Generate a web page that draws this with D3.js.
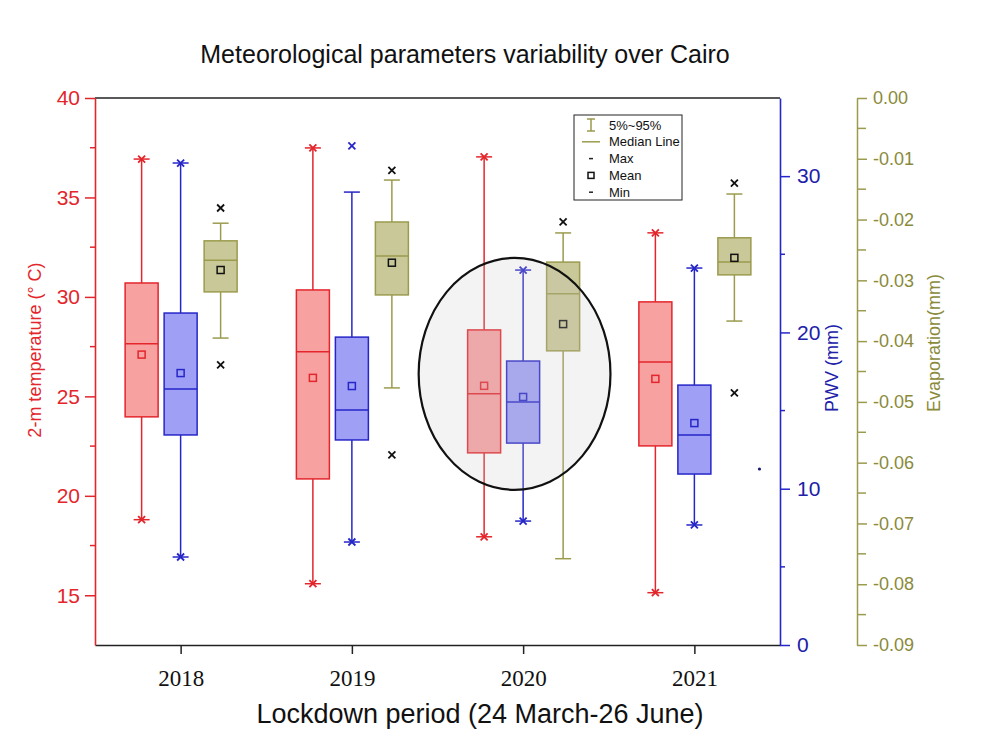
<!DOCTYPE html>
<html>
<head>
<meta charset="utf-8">
<script src="https://cdn.jsdelivr.net/npm/d3@7.9.0/dist/d3.min.js"></script>
<style>
  body { margin: 0; background: #fff; }
  svg { display: block; font-family: Arial, "Liberation Sans", sans-serif; }
</style>
</head>
<body>
<svg id="chart" width="1000" height="750"></svg>
<script>
// Years on the x axis
const years = [2018, 2019, 2020, 2021];

// 2-m temperature (°C)
const tempMax = [36.93, 37.49, 37.04, 33.22];
const tempP95 = [36.93, 37.49, 37.04, 33.22];
const tempQ3 = [30.7, 30.35, 28.34, 29.75];
const tempMedian = [27.64, 27.24, 25.13, 26.73];
const tempMean = [27.1, 25.93, 25.53, 25.88];
const tempQ1 = [23.97, 20.85, 22.16, 22.51];
const tempP5 = [18.8, 15.58, 17.94, 15.13];
const tempMin = [18.8, 15.58, 17.94, 15.13];

// PWV (mm)
const pwvMax = [30.84, 31.93, 23.99, 24.12];
const pwvP95 = [30.84, 28.98, 23.99, 24.12];
const pwvQ3 = [21.24, 19.7, 18.17, 16.63];
const pwvMedian = [16.38, 15.03, 15.55, 13.44];
const pwvMean = [17.4, 16.57, 15.87, 14.2];
const pwvQ1 = [13.44, 13.12, 12.92, 10.94];
const pwvP5 = [5.63, 6.59, 7.93, 7.68];
const pwvMin = [5.63, 6.59, 7.93, 7.68];

// Evaporation (mm)
const evapMax = [-0.0181, -0.0119, -0.0204, -0.014];
const evapP95 = [-0.0206, -0.0135, -0.0222, -0.0158];
const evapQ3 = [-0.0235, -0.0204, -0.027, -0.023];
const evapMedian = [-0.0267, -0.026, -0.0322, -0.027];
const evapMean = [-0.0283, -0.0271, -0.0372, -0.0263];
const evapQ1 = [-0.0319, -0.0324, -0.0416, -0.0291];
const evapP5 = [-0.0395, -0.0477, -0.0758, -0.0367];
const evapMin = [-0.0439, -0.0587, null, -0.0485];

// stray point near the right axis (PWV scale)
const strayYear = [2021.38];
const strayPwv = [11.26];

// Highlight ellipse around 2020 (year, temperature units)
const ellipseCenter = [2019.95, 26.13];
const ellipseRadius = [0.56, 5.83];

const svg = d3.select("#chart");
const plotLeft = 95, plotRight = 780, plotTop = 98, plotBottom = 645;

const x = d3.scaleLinear().domain([2017.5, 2021.5]).range([plotLeft, plotRight]);
const yT = d3.scaleLinear().domain([12.5, 40]).range([plotBottom, plotTop]);
const yP = d3.scaleLinear().domain([0, 35]).range([plotBottom, plotTop]);
const yE = d3.scaleLinear().domain([-0.09, 0]).range([plotBottom, plotTop]);

const RED = "#e3262c", BLUE = "#2626c8", OLIVE = "#9b9b4e";

const series = [
  { scale: yT, offset: -39, stroke: RED, fill: "#f8a1a1", mark: RED,
    max: tempMax, p95: tempP95, q3: tempQ3, med: tempMedian, mean: tempMean,
    q1: tempQ1, p5: tempP5, min: tempMin },
  { scale: yP, offset: 0, stroke: BLUE, fill: "#9f9ff6", mark: BLUE,
    max: pwvMax, p95: pwvP95, q3: pwvQ3, med: pwvMedian, mean: pwvMean,
    q1: pwvQ1, p5: pwvP5, min: pwvMin },
  { scale: yE, offset: 40, stroke: OLIVE, fill: "#c9c898", mark: "#111",
    max: evapMax, p95: evapP95, q3: evapQ3, med: evapMedian, mean: evapMean,
    q1: evapQ1, p5: evapP5, min: evapMin }
];

const boxW = 33, capW = 16;

// Frame line on top
svg.append("line").attr("x1", plotLeft).attr("x2", plotRight).attr("y1", plotTop).attr("y2", plotTop)
  .attr("stroke", "#222").attr("stroke-width", 1.5);

// Bottom axis
const xAxis = svg.append("g").attr("transform", `translate(0,${plotBottom})`)
  .call(d3.axisBottom(x).tickValues(years).tickFormat(d3.format("d")).tickSize(9).tickPadding(16).tickSizeOuter(0));
xAxis.select(".domain").attr("stroke", "#222").attr("stroke-width", 1.5);
xAxis.selectAll(".tick line").attr("stroke", "#222").attr("stroke-width", 1.5);
xAxis.selectAll("text").attr("font-family", "'Liberation Serif', 'Times New Roman', serif")
  .attr("font-size", 23).attr("fill", "#111");

// Draw boxes
series.forEach(s => {
  years.forEach((yr, i) => {
    const cx = x(yr) + s.offset;
    const g = svg.append("g");
    // whiskers
    g.append("line").attr("x1", cx).attr("x2", cx)
      .attr("y1", s.scale(s.p95[i])).attr("y2", s.scale(s.q3[i]))
      .attr("stroke", s.stroke).attr("stroke-width", 1.5);
    g.append("line").attr("x1", cx).attr("x2", cx)
      .attr("y1", s.scale(s.q1[i])).attr("y2", s.scale(s.p5[i]))
      .attr("stroke", s.stroke).attr("stroke-width", 1.5);
    [s.p95[i], s.p5[i]].forEach(v => {
      g.append("line").attr("x1", cx - capW / 2).attr("x2", cx + capW / 2)
        .attr("y1", s.scale(v)).attr("y2", s.scale(v))
        .attr("stroke", s.stroke).attr("stroke-width", 1.5);
    });
    // box
    g.append("rect").attr("x", cx - boxW / 2).attr("width", boxW)
      .attr("y", s.scale(s.q3[i])).attr("height", s.scale(s.q1[i]) - s.scale(s.q3[i]))
      .attr("fill", s.fill).attr("stroke", s.stroke).attr("stroke-width", 1.5);
    g.append("line").attr("x1", cx - boxW / 2).attr("x2", cx + boxW / 2)
      .attr("y1", s.scale(s.med[i])).attr("y2", s.scale(s.med[i]))
      .attr("stroke", s.stroke).attr("stroke-width", 1.5);
    // mean
    g.append("rect").attr("x", cx - 3.5).attr("y", s.scale(s.mean[i]) - 3.5)
      .attr("width", 7).attr("height", 7).attr("fill", "none")
      .attr("stroke", s.mark).attr("stroke-width", 1.5);
    // max / min crosses
    [s.max[i], s.min[i]].forEach(v => {
      if (v == null) return;
      const py = s.scale(v), r = 3.5;
      g.append("path")
        .attr("d", `M${cx - r},${py - r}L${cx + r},${py + r}M${cx - r},${py + r}L${cx + r},${py - r}`)
        .attr("stroke", s.mark).attr("stroke-width", 1.8);
    });
  });
});

// stray point
svg.selectAll(".stray").data(strayYear).join("circle").attr("class", "stray")
  .attr("cx", d => x(d)).attr("cy", (d, i) => yP(strayPwv[i])).attr("r", 1.6)
  .attr("fill", "#1a1a70");

// Highlight ellipse
svg.append("ellipse")
  .attr("cx", x(ellipseCenter[0])).attr("cy", yT(ellipseCenter[1]))
  .attr("rx", x(ellipseCenter[0] + ellipseRadius[0]) - x(ellipseCenter[0]))
  .attr("ry", yT(ellipseCenter[1] - ellipseRadius[1]) - yT(ellipseCenter[1]))
  .attr("fill", "#c8c8c8").attr("fill-opacity", 0.22)
  .attr("stroke", "#111").attr("stroke-width", 2.2);

// helper for minor ticks
function minorTicks(g, scale, values, size, color) {
  g.selectAll(".minor").data(values).join("line").attr("class", "minor")
    .attr("x1", 0).attr("x2", size)
    .attr("y1", d => scale(d)).attr("y2", d => scale(d))
    .attr("stroke", color).attr("stroke-width", 1.5);
}

// Left axis (temperature)
const gL = svg.append("g").attr("transform", `translate(${plotLeft},0)`)
  .call(d3.axisLeft(yT).tickValues([15, 20, 25, 30, 35, 40]).tickSize(10).tickPadding(5).tickSizeOuter(0));
gL.select(".domain").attr("stroke", RED).attr("stroke-width", 1.6);
gL.selectAll(".tick line").attr("stroke", RED).attr("stroke-width", 1.5);
gL.selectAll("text").attr("font-size", 21).attr("fill", RED).attr("font-family", "Arial, 'Liberation Sans', sans-serif");
minorTicks(gL, yT, [17.5, 22.5, 27.5, 32.5, 37.5], -5, RED);

// Right axis (PWV)
const gP = svg.append("g").attr("transform", `translate(${plotRight},0)`)
  .call(d3.axisRight(yP).tickValues([0, 10, 20, 30]).tickSize(10).tickPadding(7).tickSizeOuter(0));
gP.select(".domain").attr("stroke", BLUE).attr("stroke-width", 1.6);
gP.selectAll(".tick line").attr("stroke", BLUE).attr("stroke-width", 1.5);
gP.selectAll("text").attr("font-size", 21).attr("fill", "#2020a8").attr("font-family", "Arial, 'Liberation Sans', sans-serif");
minorTicks(gP, yP, [5, 15, 25], 5, BLUE);

// Far right axis (evaporation)
const evapTicks = d3.range(0, 10).map(k => -k / 100);
const gE = svg.append("g").attr("transform", "translate(857,0)")
  .call(d3.axisRight(yE).tickValues(evapTicks).tickFormat(d => d.toFixed(2)).tickSize(10).tickPadding(6).tickSizeOuter(0));
gE.select(".domain").attr("stroke", OLIVE).attr("stroke-width", 1.5);
gE.selectAll(".tick line").attr("stroke", OLIVE).attr("stroke-width", 1.5);
gE.selectAll("text").attr("font-size", 18).attr("fill", "#8a8a3a").attr("font-family", "Arial, 'Liberation Sans', sans-serif");
minorTicks(gE, yE, d3.range(0, 9).map(k => -(k + 0.5) / 100), 9, OLIVE);

// Titles
svg.append("text").attr("x", 465).attr("y", 63).attr("text-anchor", "middle")
  .attr("font-size", 25).attr("fill", "#111").text("Meteorological parameters variability over Cairo");
svg.append("text").attr("x", 480).attr("y", 723).attr("text-anchor", "middle")
  .attr("font-size", 27).attr("fill", "#111").text("Lockdown period (24 March-26 June)");
svg.append("text").attr("transform", "translate(35,350) rotate(-90)").attr("text-anchor", "middle")
  .attr("dominant-baseline", "central").attr("font-size", 18).attr("fill", RED).text("2-m temperature (° C)");
svg.append("text").attr("transform", "translate(832,368) rotate(-90)").attr("text-anchor", "middle")
  .attr("dominant-baseline", "central").attr("font-size", 18).attr("fill", "#2020a8").text("PWV (mm)");
svg.append("text").attr("transform", "translate(934,343) rotate(-90)").attr("text-anchor", "middle")
  .attr("dominant-baseline", "central").attr("font-size", 18).attr("fill", "#8a8a3a").text("Evaporation(mm)");

// Legend
const legend = svg.append("g").attr("transform", "translate(574,115)");
legend.append("rect").attr("width", 108).attr("height", 85)
  .attr("fill", "#fff").attr("stroke", "#222").attr("stroke-width", 1);
const legendLabels = ["5%~95%", "Median Line", "Max", "Mean", "Min"];
legendLabels.forEach((label, i) => {
  const ly = 10 + i * 16.8;
  legend.append("text").attr("x", 35).attr("y", ly).attr("dominant-baseline", "central")
    .attr("font-size", 13).attr("fill", "#111").text(label);
});
const sym = legend.append("g").attr("transform", "translate(17,0)");
sym.append("path").attr("d", "M-4,4H4M0,4V16M-4,16H4").attr("stroke", OLIVE).attr("stroke-width", 1.5).attr("fill", "none");
sym.append("line").attr("x1", -9).attr("x2", 9).attr("y1", 26.8).attr("y2", 26.8).attr("stroke", OLIVE).attr("stroke-width", 1.5);
sym.append("line").attr("x1", -2).attr("x2", 2).attr("y1", 43.6).attr("y2", 43.6).attr("stroke", "#222").attr("stroke-width", 1.5);
sym.append("rect").attr("x", -3).attr("y", 57.4).attr("width", 6).attr("height", 6).attr("fill", "none").attr("stroke", "#111").attr("stroke-width", 1.5);
sym.append("line").attr("x1", -2).attr("x2", 2).attr("y1", 77.2).attr("y2", 77.2).attr("stroke", "#222").attr("stroke-width", 1.5);
</script>
</body>
</html>
